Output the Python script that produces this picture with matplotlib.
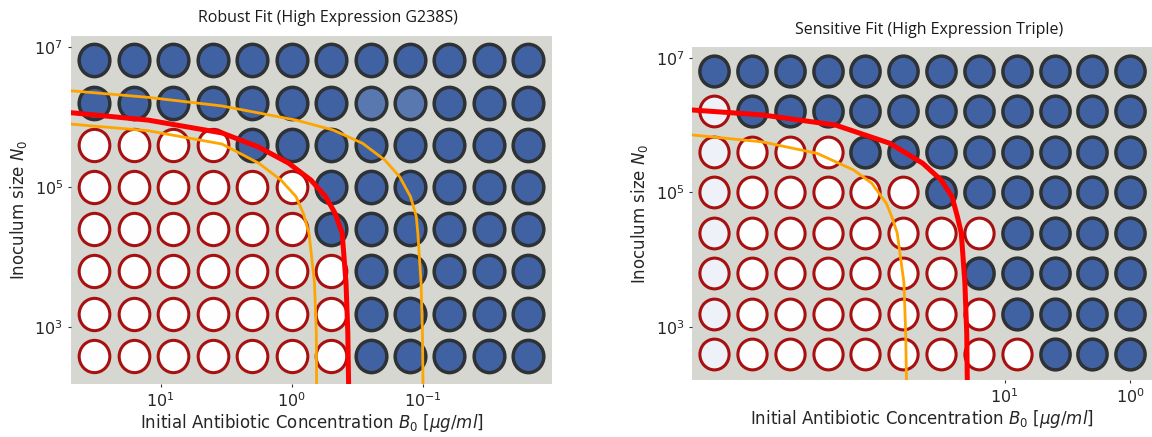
import numpy as np
import matplotlib.pyplot as plt
from matplotlib.path import Path
from matplotlib.ticker import NullLocator

# --- data ---
# antibiotic concentrations (2-fold dilutions), ug/ml
conc_robust = [32, 16, 8, 4, 2, 1, 0.5, 0.25, 0.125, 0.0625, 0.03125, 0.015625]
conc_sensitive = [2048, 1024, 512, 256, 128, 64, 32, 16, 8, 4, 2, 1]
# inoculum sizes (4-fold dilutions), top row first
inoculum = [6.4e6, 1.6e6, 4e5, 1e5, 2.5e4, 6250, 1562.5, 390.625]

# 0 = no growth, 1 = growth, 2 = growth (paler), 3 = no growth (tinted)
wells_robust = [
    [1, 1, 1, 1, 1, 1, 1, 1, 1, 1, 1, 1],
    [1, 1, 1, 1, 1, 1, 1, 2, 2, 1, 1, 1],
    [0, 0, 0, 0, 1, 1, 1, 1, 1, 1, 1, 1],
    [0, 0, 0, 0, 0, 0, 1, 1, 1, 1, 1, 1],
    [0, 0, 0, 0, 0, 0, 1, 1, 1, 1, 1, 1],
    [0, 0, 0, 0, 0, 0, 0, 1, 1, 1, 1, 1],
    [0, 0, 0, 0, 0, 0, 0, 1, 1, 1, 1, 1],
    [0, 0, 0, 0, 0, 0, 0, 1, 1, 1, 1, 1],
]
wells_sensitive = [
    [1, 1, 1, 1, 1, 1, 1, 1, 1, 1, 1, 1],
    [3, 1, 1, 1, 1, 1, 1, 1, 1, 1, 1, 1],
    [3, 0, 0, 0, 1, 1, 1, 1, 1, 1, 1, 1],
    [3, 0, 0, 0, 0, 0, 1, 1, 1, 1, 1, 1],
    [3, 0, 0, 0, 0, 0, 0, 0, 1, 1, 1, 1],
    [3, 0, 0, 0, 0, 0, 0, 1, 1, 1, 1, 1],
    [3, 0, 0, 0, 0, 0, 0, 0, 1, 1, 1, 1],
    [3, 0, 0, 0, 0, 0, 0, 0, 0, 1, 1, 1],
]

# fitted boundaries (B0, N0)
robust_fit_B = [49.0, 12.5, 3.40, 1.78, 1.06, 0.715, 0.551, 0.469, 0.412, 0.385, 0.373, 0.368]
robust_fit_N = [1.15e6, 9.0e5, 5.9e5, 3.7e5, 2.2e5, 1.26e5, 7.3e4, 4.3e4, 2.2e4, 4.3e3, 830, 160]

robust_hi_B = [49.0, 12.5, 3.40, 0.927, 0.484, 0.288, 0.195, 0.150, 0.124, 0.112, 0.109, 0.103, 0.1005, 0.0995]
robust_hi_N = [2.36e6, 1.90e6, 1.43e6, 9.0e5, 6.5e5, 4.2e5, 2.43e5, 1.40e5, 7.3e4, 3.8e4, 2.2e4, 4.3e3, 830, 160]

robust_lo_B = [49.0, 12.5, 3.40, 1.78, 1.21, 0.927, 0.815, 0.738, 0.670, 0.649, 0.646]
robust_lo_N = [7.9e5, 6.35e5, 4.1e5, 2.18e5, 1.26e5, 7.3e4, 4.2e4, 2.2e4, 4.3e3, 830, 160]

sens_fit_B = [3055, 847, 222, 81.7, 44.8, 32.0, 26.2, 23.7, 22.1, 20.7, 20.0, 19.8]
sens_fit_N = [1.67e6, 1.41e6, 9.98e5, 5.33e5, 2.69e5, 1.52e5, 8.6e4, 4.3e4, 2.47e4, 4.5e3, 805, 161]

sens_lo_B = [3055, 847, 310, 159, 114, 87.1, 78.9, 71.5, 63.2, 61.2, 60.4]
sens_lo_N = [7.1e5, 5.6e5, 3.78e5, 2.14e5, 1.36e5, 6.8e4, 4.3e4, 2.47e4, 4.5e3, 805, 161]

fill = {0: '#fefefe', 1: '#4062a3', 2: '#5a78b0', 3: '#eef1f8'}
edge = {0: '#a81010', 1: '#2f3234', 2: '#2f3234', 3: '#a81010'}
width = {0: 2.2, 1: 2.5, 2: 2.5, 3: 2.2}

# slightly tall oval marker
circ = Path.unit_circle()
oval = Path(circ.vertices * np.array([0.95, 1.0]), circ.codes)

plt.rcParams['font.family'] = 'DejaVu Sans'
fig = plt.figure(figsize=(11.52, 4.37), dpi=100)
ax1 = fig.add_axes([70.7 / 1152, 1 - 384 / 437, (552.3 - 70.7) / 1152, (384 - 35.7) / 437])
ax2 = fig.add_axes([692.3 / 1152, 1 - 380 / 437, (1152 - 692.3) / 1152, (380 - 46.7) / 437])


def draw_plate(ax, conc, wells, size):
    for i, n in enumerate(inoculum):
        for j, b in enumerate(conc):
            k = wells[i][j]
            ax.scatter(b, n, s=size, marker=oval, facecolor=fill[k],
                       edgecolor=edge[k], linewidths=width[k], zorder=2)
    ax.set_facecolor('#d5d7d0')
    for sp in ax.spines.values():
        sp.set_visible(False)
    ax.set_xscale('log')
    ax.set_yscale('log')
    ax.set_yticks([1e3, 1e5, 1e7])
    ax.yaxis.set_minor_locator(NullLocator())
    ax.xaxis.set_minor_locator(NullLocator())
    ax.tick_params(length=2.5, width=0.8, color='#333333', labelcolor='#262626',
                   labelsize=11.5, pad=3)
    ax.set_ylabel('Inoculum size $N_0$', fontsize=12, color='#262626', labelpad=4)
    ax.set_xlabel('Initial Antibiotic Concentration $B_0$ [$\\mu g/ml$]',
                  fontsize=12, color='#262626', labelpad=1.5)


draw_plate(ax1, conc_robust, wells_robust, 540)
ax1.plot(robust_hi_B, robust_hi_N, color='#ffa500', lw=2.0, zorder=3)
ax1.plot(robust_lo_B, robust_lo_N, color='#ffa500', lw=2.0, zorder=3)
ax1.plot(robust_fit_B, robust_fit_N, color='#ff0000', lw=3.6, zorder=4)
ax1.set_xticks([10, 1, 0.1])
ax1.set_xlim(48.6, 0.01026)
ax1.set_ylim(155.6, 1.436e7)

draw_plate(ax2, conc_sensitive, wells_sensitive, 490)
ax2.plot(sens_lo_B, sens_lo_N, color='#ffa500', lw=2.0, zorder=3)
ax2.plot(sens_fit_B, sens_fit_N, color='#ff0000', lw=3.6, zorder=4)
ax2.set_xticks([10, 1])
ax2.set_xlim(3055, 0.671)
ax2.set_ylim(161, 1.459e7)

fig.text(327.5 / 1152, 1 - 18.5 / 437, 'Robust Fit (High Expression G238S)',
         ha='center', va='center', fontsize=11.5, family='Open Sans', color='#1a1a1a')
fig.text(929 / 1152, 1 - 30 / 437, 'Sensitive Fit (High Expression Triple)',
         ha='center', va='center', fontsize=11.5, family='Open Sans', color='#1a1a1a')

fig.savefig('out.png', dpi=100)
